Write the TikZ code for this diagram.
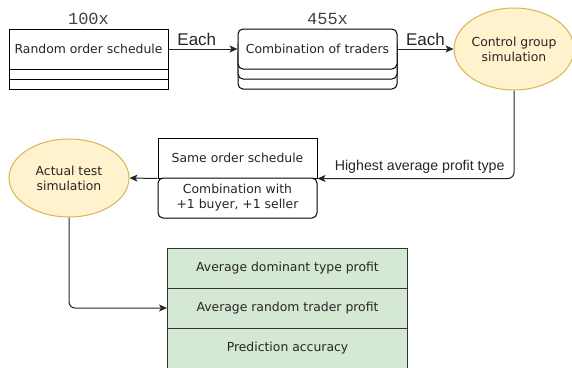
\documentclass[tikz,border=0pt]{standalone}
\usepackage{fontspec}
\setmainfont{DejaVu Sans}
\newfontfamily\arialf{Liberation Sans}
\newfontfamily\monof{Liberation Mono}
\usetikzlibrary{arrows.meta,shapes.geometric,positioning}
\definecolor{yfill}{HTML}{FFF2CC}
\definecolor{ystroke}{HTML}{D6B656}
\definecolor{gfill}{HTML}{D5E8D4}
\definecolor{lin}{HTML}{333333}
\begin{document}
\begin{tikzpicture}[x=1pt,y=-1pt,
 every node/.style={font=\fontsize{12.4}{15}\selectfont, text=black!85},
 box/.style={draw=black, line width=1pt, minimum width=159pt, minimum height=40pt, inner sep=0pt, fill=white, align=center},
 rbox/.style={box, rounded corners=5pt},
 strip/.style={draw=black, line width=1pt, minimum width=159pt, minimum height=10pt, inner sep=0pt},
 sim/.style={ellipse, draw=ystroke, fill=yfill, line width=1pt, inner sep=0pt, align=center},
 row/.style={draw=lin, fill=gfill, line width=1pt, minimum width=240pt, minimum height=40pt, inner sep=0pt},
 arr/.style={draw=black!85, line width=1pt, -{Stealth[length=8pt,width=7pt,inset=2pt]}},
 each/.style={font=\arialf\fontsize{17}{19}\selectfont, inner sep=0pt},
 hlbl/.style={font=\arialf\fontsize{14.2}{16}\selectfont, inner sep=0pt},
 cnt/.style={font=\monof\fontsize{17}{19}\selectfont, inner sep=0pt, text=black!75},
]
\useasboundingbox (0,0) rectangle (572,367);

% Random order schedule
\node[box] (rs) at (88.5,49) {Random order schedule};
\node[strip] (rs2) at (88.5,74) {};
\node[strip] (rs3) at (88.5,84) {};
\node[cnt, above=3.5pt of rs.north] (c100) {100x};

% Combination of traders (stacked)
\node[rbox, minimum height=40pt] (ct3) at (317.5,69) {};
\node[rbox, minimum height=40pt] (ct2) at (317.5,59) {};
\node[rbox] (ct) at (317.5,49) {Combination of traders};
\node[cnt, above=3.5pt of ct.north, xshift=10pt] (c455) {455x};

% Control group simulation
\node[sim, minimum width=114pt, minimum height=82pt] (cg) at (514,49) {Control group\\simulation};

% Same order schedule / combination
\node[box] (so) at (237.5,158) {Same order schedule};
\node[rbox] (cw) at (237.5,198) {Combination with\\+1 buyer, +1 seller};

% Actual test simulation
\node[sim, minimum width=120pt, minimum height=78pt] (at) at (69,178) {Actual test\\simulation};

% Result table
\node[row] (r1) at (287.5,268) {Average dominant type profit};
\node[row] (r2) at (287.5,308) {Average random trader profit};
\node[row] (r3) at (287.5,348) {Prediction accuracy};

% Connectors
\draw[arr] (rs.east) -- node[each, pos=0.41, above=3pt] (e1) {Each} (ct.west);
\draw[arr] (ct.east) -- node[each, pos=0.5, above=3pt] (e2) {Each} (cg.west);
\draw[arr, rounded corners=6pt] (cg.south) |- node[hlbl, pos=0.74, above=4.5pt] (hl) {Highest average profit type} (so.south east);
\draw[arr] (so.south west) -- (at.east);
\draw[arr, rounded corners=6pt] (at.south) |- (r2.west);
\end{tikzpicture}
\end{document}
